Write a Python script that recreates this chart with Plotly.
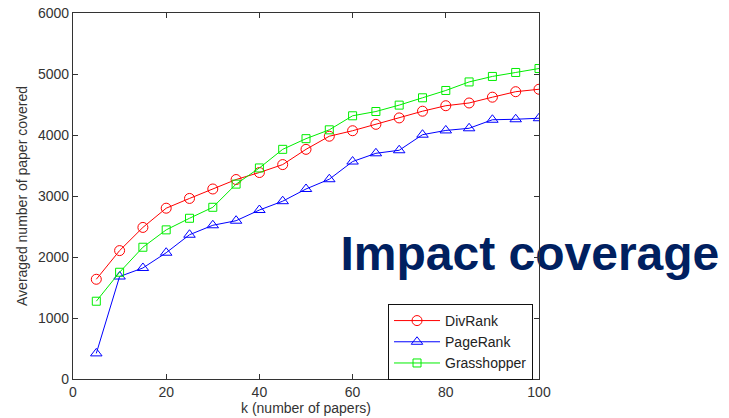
import plotly.graph_objects as go

k_values = [5, 10, 15, 20, 25, 30, 35, 40, 45, 50, 55, 60, 65, 70, 75, 80, 85, 90, 95, 100]
divrank = [1635, 2105, 2485, 2800, 2960, 3115, 3270, 3385, 3515, 3765, 3980, 4070, 4175, 4280, 4390, 4480, 4525, 4620, 4710, 4750]
pagerank = [420, 1680, 1820, 2070, 2365, 2520, 2595, 2770, 2915, 3115, 3275, 3565, 3700, 3750, 4005, 4075, 4110, 4250, 4258, 4275]
grasshopper = [1275, 1750, 2160, 2445, 2635, 2815, 3195, 3460, 3765, 3940, 4085, 4315, 4385, 4490, 4610, 4730, 4870, 4960, 5025, 5090]

series_names = ["DivRank", "PageRank", "Grasshopper"]
slide_title = "Impact coverage"

FONT = "Liberation Sans, Arial, sans-serif"
AX = "#333333"

fig = go.Figure()
styles = [
    dict(color="#ff0000", symbol="circle-open", size=10),
    dict(color="#0000ff", symbol="triangle-up-open", size=10),
    dict(color="#00ee00", symbol="square-open", size=8),
]
for name, vals, st in zip(series_names, [divrank, pagerank, grasshopper], styles):
    fig.add_trace(go.Scatter(
        x=k_values, y=vals, name=name, mode="lines+markers",
        line=dict(color=st["color"], width=1),
        marker=dict(symbol=st["symbol"], size=st["size"], color=st["color"],
                    line=dict(color=st["color"], width=1)),
    ))

# slide title drawn as text in the plot layer (axis line passes over it)
fig.add_trace(go.Scatter(
    x=[57.4], y=[1990], mode="text", text=[slide_title], textposition="middle right",
    textfont=dict(family=FONT, size=48, color="#002060", weight="bold"),
    showlegend=False, cliponaxis=False, hoverinfo="skip",
))

fig.update_layout(
    width=729, height=418,
    margin=dict(l=73, r=190, t=13, b=39, autoexpand=False),
    paper_bgcolor="white", plot_bgcolor="white",
    font=dict(family=FONT, size=14, color="#222222"),
    showlegend=True,
    legend=dict(
        x=0.676, y=0.205, xanchor="left", yanchor="top",
        bordercolor="#111111", borderwidth=1, bgcolor="white",
        font=dict(family=FONT, size=14, color="#222222"),
        tracegroupgap=0, itemwidth=46,
    ),
)
fig.update_xaxes(
    range=[0, 100], dtick=20, tick0=0, automargin=False, ticklabeloverflow="allow",
    showline=True, linecolor=AX, linewidth=1.3, mirror="ticks",
    ticks="inside", ticklen=5, tickcolor=AX, showgrid=False, zeroline=False,
    tickfont=dict(family=FONT, size=14, color="#333333"),
    title=dict(text="k (number of papers)", standoff=0,
               font=dict(family=FONT, size=14, color="#333333")),
)
fig.update_yaxes(
    range=[0, 6000], dtick=1000, tick0=0, automargin=False, ticklabeloverflow="allow",
    showline=True, linecolor=AX, linewidth=1.3, mirror="ticks",
    ticks="inside", ticklen=5, tickcolor=AX, showgrid=False, zeroline=False,
    tickfont=dict(family=FONT, size=14, color="#333333"),
    title=dict(text="Averaged number of paper covered", standoff=6,
               font=dict(family=FONT, size=14, color="#333333")),
)

# remove the page's default 8px body margin so the figure fills the window
fig.write_html("out.html", config={"displayModeBar": False},
               post_script="document.body.style.margin='0';")
